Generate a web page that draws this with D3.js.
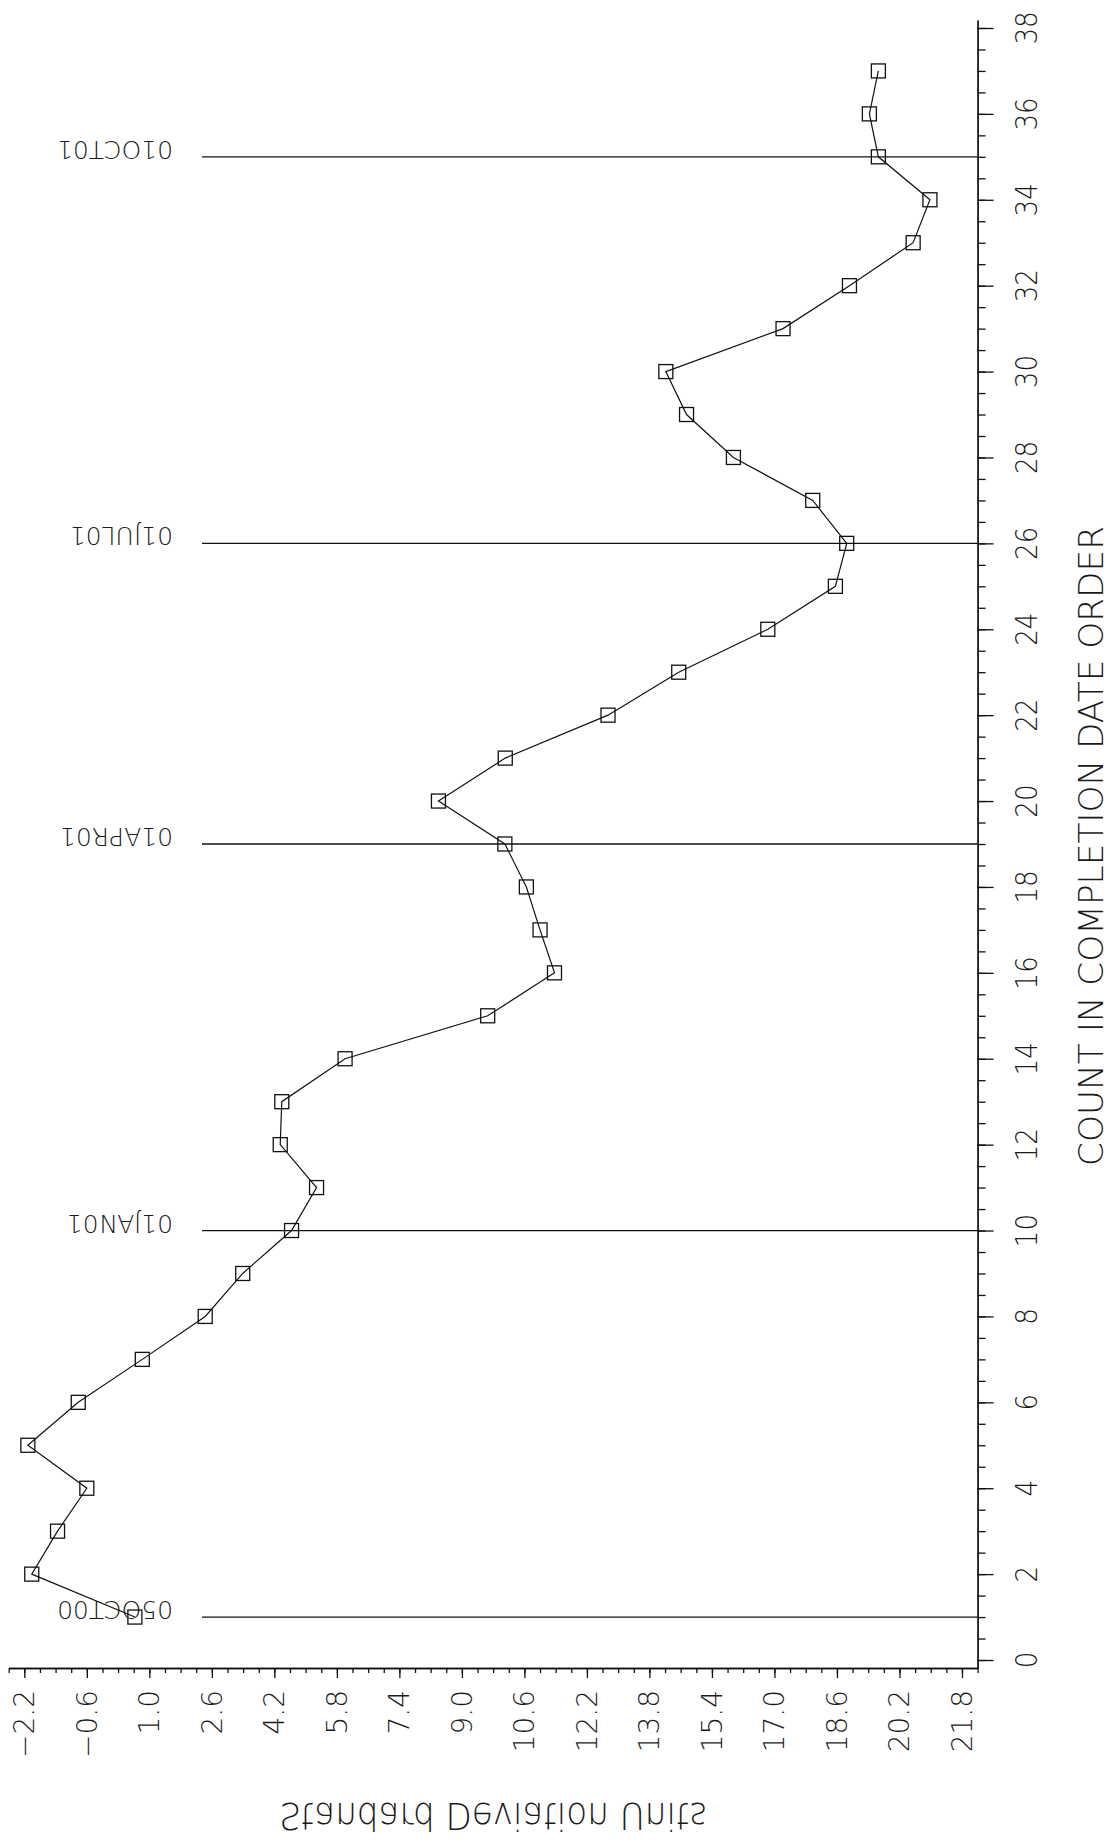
<!DOCTYPE html>
<html>
<head>
<meta charset="utf-8">
<script src="https://cdn.jsdelivr.net/npm/d3@7"></script>
<style>
  html, body { margin: 0; padding: 0; background: #fff; }
  text { font-family: "DejaVu Sans", sans-serif; font-weight: 200; fill: #1a1a1a; }
</style>
</head>
<body>
<div id="vis"></div>
<script>
// count in completion date order (runs up the page)
const counts = [1, 2, 3, 4, 5, 6, 7, 8, 9, 10, 11, 12, 13, 14, 15, 16, 17, 18, 19,
                20, 21, 22, 23, 24, 25, 26, 27, 28, 29, 30, 31, 32, 33, 34, 35, 36, 37];
// standard deviation units (runs across the page)
const sdUnits = [0.63, -2.01, -1.35, -0.60, -2.11, -0.82, 0.82, 2.43, 3.39, 4.64,
                 5.28, 4.35, 4.39, 6.01, 9.66, 11.37, 11.00, 10.65, 10.10, 8.40,
                 10.11, 12.74, 14.55, 16.83, 18.56, 18.85, 17.98, 15.95, 14.75, 14.22,
                 17.22, 18.92, 20.55, 20.98, 19.66, 19.43, 19.66];
// date reference lines
const refCounts = [1, 10, 19, 26, 35];
const refLabels = ["05OCT00", "01JAN01", "01APR01", "01JUL01", "01OCT01"];
// tick labels
const countTicks = [0, 2, 4, 6, 8, 10, 12, 14, 16, 18, 20, 22, 24, 26, 28, 30, 32, 34, 36, 38];
const sdTicks = [-2.2, -0.6, 1.0, 2.6, 4.2, 5.8, 7.4, 9.0, 10.6, 12.2, 13.8, 15.4, 17.0, 18.6, 20.2, 21.8];

const width = 1111, height = 1843;

const svg = d3.select("#vis").append("svg")
    .attr("width", width)
    .attr("height", height)
    .style("display", "block");

// scales: value goes left->right, count goes bottom->top
const x = d3.scaleLinear().domain([-2.6, 22.2]).range([8.7, 977.6]);
const y = d3.scaleLinear().domain([-0.186, 38.186]).range([1668, 20]);

const axisX = x.range()[1];   // right-hand count axis
const axisY = y.range()[0];   // bottom value axis

// right axis (count)
svg.append("g")
    .attr("transform", "translate(" + axisX + ",0)")
    .call(d3.axisRight(y).tickValues(d3.range(0, 38.01, 0.5)).tickSize(8).tickSizeOuter(0).tickFormat(""));
svg.append("g")
    .attr("transform", "translate(" + axisX + ",0)")
    .call(d3.axisRight(y).tickValues(countTicks).tickSize(16).tickSizeOuter(0).tickFormat(""));

svg.append("g").selectAll("text")
    .data(countTicks)
    .enter()
    .append("text")
    .attr("transform", function(d) { return "translate(" + (axisX + 59) + "," + y(d) + ") rotate(-90) scale(0.87,1)"; })
    .attr("text-anchor", "middle")
    .style("font-size", "30px")
    .text(function(d) { return d; });

// bottom axis (standard deviation units)
svg.append("g")
    .attr("transform", "translate(0," + axisY + ")")
    .call(d3.axisBottom(x).tickValues(d3.range(-2.6, 22.21, 0.4)).tickSize(5).tickSizeOuter(0).tickFormat(""));
svg.append("g")
    .attr("transform", "translate(0," + axisY + ")")
    .call(d3.axisBottom(x).tickValues(sdTicks).tickSize(10).tickSizeOuter(0).tickFormat(""));

svg.append("g").selectAll("text")
    .data(sdTicks)
    .enter()
    .append("text")
    .attr("transform", function(d) { return "translate(" + (x(d) + 10) + "," + (axisY + 22) + ") rotate(-90)"; })
    .attr("text-anchor", "end")
    .style("font-size", "28px")
    .text(function(d) { return d3.format(".1f")(d); });

svg.selectAll(".domain, .tick line").attr("stroke", "#111").attr("stroke-width", 1.3);

// date reference lines
const refs = refCounts.map(function(c, i) { return {c: c, label: refLabels[i]}; });
svg.append("g").selectAll("line")
    .data(refs)
    .enter()
    .append("line")
    .attr("x1", 202)
    .attr("x2", axisX)
    .attr("y1", function(d) { return y(d.c); })
    .attr("y2", function(d) { return y(d.c); })
    .attr("stroke", "#111")
    .attr("stroke-width", 1.3);

svg.append("g").selectAll("text")
    .data(refs)
    .enter()
    .append("text")
    .attr("transform", function(d) { return "translate(173," + (y(d.c) - 16) + ") rotate(180)"; })
    .attr("text-anchor", "start")
    .style("font-size", "25px")
    .text(function(d) { return d.label; });

// series
const points = counts.map(function(c, i) { return {c: c, v: sdUnits[i]}; });

svg.append("path")
    .datum(points)
    .attr("fill", "none")
    .attr("stroke", "#111")
    .attr("stroke-width", 1.2)
    .attr("d", d3.line().x(function(d) { return x(d.v); }).y(function(d) { return y(d.c); }));

svg.append("g").selectAll("rect")
    .data(points)
    .enter()
    .append("rect")
    .attr("x", function(d) { return x(d.v) - 7; })
    .attr("y", function(d) { return y(d.c) - 7; })
    .attr("width", 14)
    .attr("height", 14)
    .attr("fill", "none")
    .attr("stroke", "#111")
    .attr("stroke-width", 1.3);

// axis titles
svg.append("text")
    .attr("transform", "translate(1103," + (y(19) + 2) + ") rotate(-90)")
    .attr("text-anchor", "middle")
    .attr("textLength", 640)
    .attr("lengthAdjust", "spacingAndGlyphs")
    .style("font-size", "34px")
    .text("COUNT IN COMPLETION DATE ORDER");

// bottom title is mirrored top-to-bottom, as in the original plot
svg.append("text")
    .attr("transform", "translate(" + (x(9.8)) + ",1803) scale(1,-1)")
    .attr("text-anchor", "middle")
    .attr("textLength", 428)
    .attr("lengthAdjust", "spacingAndGlyphs")
    .style("font-size", "37px")
    .text("Standard Deviation Units");
</script>
</body>
</html>
